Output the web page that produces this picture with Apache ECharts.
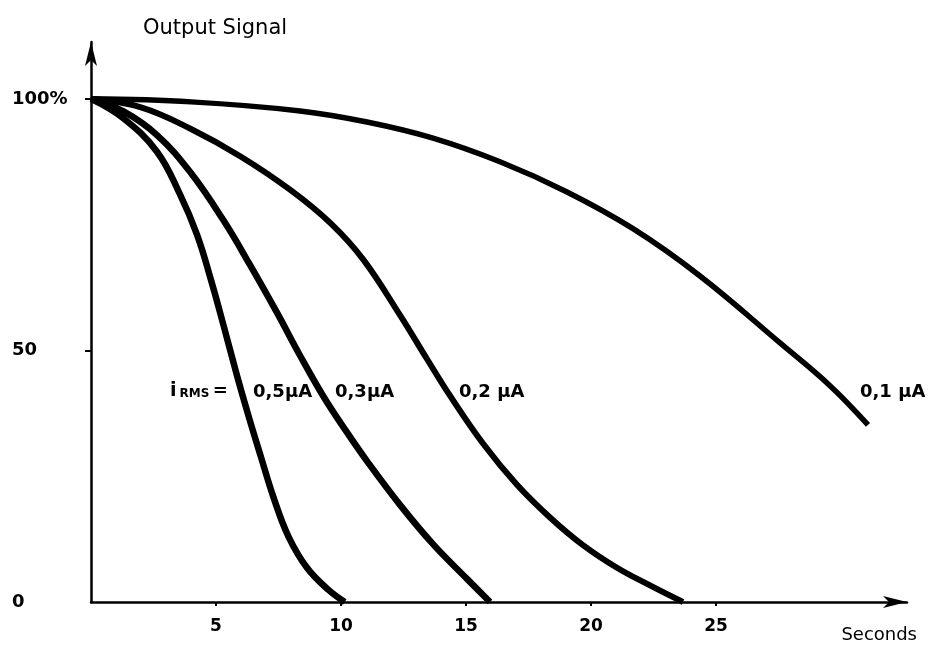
<!DOCTYPE html>
<html>
<head>
<meta charset="utf-8">
<script src="https://cdn.jsdelivr.net/npm/echarts@6/dist/echarts.min.js"></script>
<style>
html,body{margin:0;padding:0;background:#fff;}
#chart{width:932px;height:651px;}
</style>
</head>
<body>
<div id="chart"></div>
<script>
// Time (seconds) and output signal (%) for each RMS current
var t05 = [0, 1.28, 2.64, 3.56, 4.24, 4.8, 5.3, 5.84, 6.3, 6.8, 7.3, 7.9, 8.64, 9.5, 10.15];
var y05 = [100, 96.2, 89.5, 81, 73, 64, 55, 45, 37, 28.8, 20.8, 13, 6.8, 2.4, 0];

var t03 = [0, 1.3, 2.64, 3.96, 5.28, 6.36, 7.44, 8.36, 9.28, 10.2, 11.04, 12.36, 13.68, 15.04, 15.96];
var y03 = [100, 97.5, 92.8, 85.5, 76, 67, 57.5, 49, 41, 34, 28, 19.3, 11.5, 4.6, 0];

var t02 = [0, 2, 4, 6, 8, 9.6, 10.9, 12.36, 13.44, 14.36, 15.68, 17.04, 18.36, 19.68, 21.04, 22.36, 23.68];
var y02 = [100, 98.3, 94, 88.5, 81.8, 75.2, 68, 57, 48.3, 41, 31.5, 23.3, 16.8, 11.3, 6.8, 3.3, 0];

var t01 = [0, 4, 8.36, 11.04, 13.68, 16.36, 19.04, 21.68, 24.36, 27.56, 29.56, 31.08];
var y01 = [100, 99.4, 97.6, 95.4, 92.2, 87.5, 81.5, 74.2, 64.8, 51.5, 43, 35.2];

var seriesNames = ['0,5µA', '0,3µA', '0,2 µA', '0,1 µA'];
var xTickValues = [5, 10, 15, 20, 25];
var yTickValues = [50, 100];
var yLabelValues = [0, 50, 100];
var yLabelTexts = {0: '0', 50: '50', 100: '100%'};
var xAxisTitle = 'Seconds';
var yAxisTitle = 'Output Signal';

function pairs(t, y) { return t.map(function (v, i) { return [v, y[i]]; }); }

var chart = echarts.init(document.getElementById('chart'), null, {renderer: 'canvas'});
var boldFont = 'DejaVu Sans';

function curve(name, t, y, w) {
  return {
    name: name, type: 'line', data: pairs(t, y), smooth: 0.4,
    showSymbol: false, symbol: 'none', silent: true,
    lineStyle: {color: '#000', width: w, cap: 'butt', join: 'round'}
  };
}

chart.setOption({
  animation: false,
  backgroundColor: '#fff',
  grid: {left: 91, right: 25, top: 42, bottom: 49, containLabel: false},
  xAxis: {
    type: 'value', min: 0, max: 32.64,
    name: xAxisTitle, nameLocation: 'end', nameGap: 10,
    nameTextStyle: {fontFamily: 'DejaVu Sans', fontSize: 18, color: '#000', align: 'right', verticalAlign: 'top', padding: [24, 0, 0, 0]},
    axisLine: {show: true, symbol: ['none', 'arrow'], symbolSize: [9, 24], lineStyle: {color: '#000', width: 2.5}},
    axisTick: {show: true, inside: false, length: 4, customValues: xTickValues, lineStyle: {color: '#000', width: 2}},
    axisLabel: {customValues: xTickValues, margin: 16, color: '#000', fontFamily: boldFont, fontWeight: 'bold', fontSize: 17},
    splitLine: {show: false}
  },
  yAxis: {
    type: 'value', min: 0, max: 111.3,
    name: yAxisTitle, nameLocation: 'end', nameGap: 3,
    nameTextStyle: {fontFamily: 'DejaVu Sans', fontSize: 21, color: '#000', align: 'left', verticalAlign: 'bottom', padding: [0, 0, 0, 52]},
    axisLine: {show: true, symbol: ['none', 'arrow'], symbolSize: [9, 24], lineStyle: {color: '#000', width: 2.5}},
    axisTick: {show: true, inside: false, length: 6, customValues: yTickValues, lineStyle: {color: '#000', width: 2}},
    axisLabel: {
      customValues: yLabelValues, margin: 79, align: 'left', color: '#000',
      fontFamily: boldFont, fontWeight: 'bold', fontSize: 18, padding: [0, 0, 14, 0],
      formatter: function (v) { return yLabelTexts[v]; }
    },
    splitLine: {show: false}
  },
  series: [
    curve(seriesNames[0], t05, y05, 6.5),
    curve(seriesNames[1], t03, y03, 6.5),
    curve(seriesNames[2], t02, y02, 6),
    curve(seriesNames[3], t01, y01, 5.5)
  ],
  graphic: [
    {type: 'text', left: 170, top: 382, style: {
      text: '{i|i}{s|RMS} {e|=}',
      rich: {
        i: {fontFamily: boldFont, fontWeight: 'bold', fontSize: 19, fill: '#000'},
        s: {fontFamily: boldFont, fontWeight: 'bold', fontSize: 12, fill: '#000', padding: [4, 0, 0, 3]},
        e: {fontFamily: boldFont, fontWeight: 'bold', fontSize: 18, fill: '#000'}
      }
    }},
    {type: 'text', left: 253, top: 383, style: {text: seriesNames[0], fontFamily: boldFont, fontWeight: 'bold', fontSize: 18, fill: '#000'}},
    {type: 'text', left: 335, top: 383, style: {text: seriesNames[1], fontFamily: boldFont, fontWeight: 'bold', fontSize: 18, fill: '#000'}},
    {type: 'text', left: 459, top: 383, style: {text: seriesNames[2], fontFamily: boldFont, fontWeight: 'bold', fontSize: 18, fill: '#000'}},
    {type: 'text', left: 860, top: 383, style: {text: seriesNames[3], fontFamily: boldFont, fontWeight: 'bold', fontSize: 18, fill: '#000'}}
  ]
});
</script>
</body>
</html>
